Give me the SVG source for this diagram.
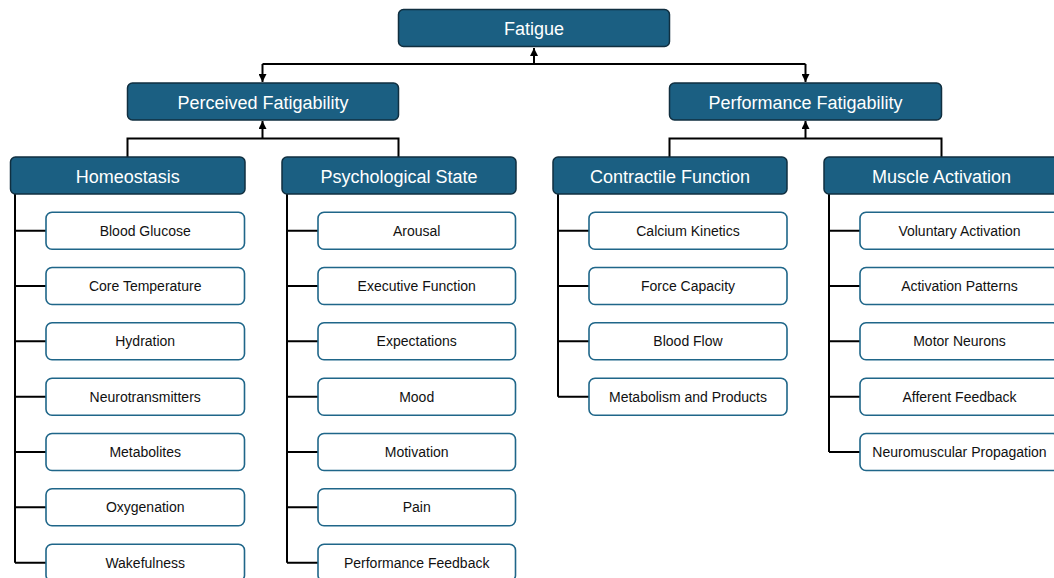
<svg xmlns="http://www.w3.org/2000/svg" width="1054" height="578" viewBox="0 0 1054 578">
<defs>
<style>
.hdr{fill:#1b5f82;stroke:#102f40;stroke-width:1.5}
.ht{fill:#ffffff;font-family:"Liberation Sans",Arial,sans-serif;font-size:18px;text-anchor:middle}
.leaf{fill:#ffffff;stroke:#1f6689;stroke-width:1.6}
.lt{fill:#111111;font-family:"Liberation Sans",Arial,sans-serif;font-size:14px;text-anchor:middle}
.c{fill:none;stroke:#000000;stroke-width:2}
</style>
<marker id="ah" viewBox="0 0 8 8" refX="8" refY="4" markerWidth="4" markerHeight="4" orient="auto" markerUnits="strokeWidth">
<path d="M0,0 L8,4 L0,8 Z" fill="#000000"/>
</marker>
</defs>
<rect width="1054" height="578" fill="#ffffff"/>
<g id="connectors">
<path class="c" d="M534,64 V48" marker-end="url(#ah)"/>
<path class="c" d="M262.5,64 H805.5"/>
<path class="c" d="M262.5,64 V82" marker-end="url(#ah)"/>
<path class="c" d="M805.5,64 V82" marker-end="url(#ah)"/>
<path class="c" d="M127.5,157 V138.5 H398.5 V157"/>
<path class="c" d="M262.5,138.5 V121" marker-end="url(#ah)"/>
<path class="c" d="M669.5,157 V138.5 H941.5 V157"/>
<path class="c" d="M805.5,138.5 V121" marker-end="url(#ah)"/>
<path class="c" d="M15,194 V562.7 M15,230.7 H46 M15,286 H46 M15,341.3 H46 M15,396.7 H46 M15,452 H46 M15,507.3 H46 M15,562.7 H46"/>
<path class="c" d="M287,194 V562.7 M287,230.7 H318 M287,286 H318 M287,341.3 H318 M287,396.7 H318 M287,452 H318 M287,507.3 H318 M287,562.7 H318"/>
<path class="c" d="M558,194 V396.7 M558,230.7 H589 M558,286 H589 M558,341.3 H589 M558,396.7 H589"/>
<path class="c" d="M829,194 V452 M829,230.7 H860 M829,286 H860 M829,341.3 H860 M829,396.7 H860 M829,452 H860"/>
</g>
<g id="fatigue"><rect class="hdr" x="398.5" y="9.5" width="271" height="37" rx="5"/><text class="ht" x="534" y="35.1">Fatigue</text></g>
<g id="perceived"><rect class="hdr" x="127.5" y="83" width="271" height="37" rx="5"/><text class="ht" x="263" y="108.6">Perceived Fatigability</text></g>
<g id="performance"><rect class="hdr" x="669.5" y="83" width="272" height="37" rx="5"/><text class="ht" x="805.5" y="108.6">Performance Fatigability</text></g>
<g id="homeostasis"><rect class="hdr" x="10.5" y="157" width="234.5" height="37" rx="5"/><text class="ht" x="127.7" y="182.6">Homeostasis</text></g>
<g id="psych"><rect class="hdr" x="282" y="157" width="234" height="37" rx="5"/><text class="ht" x="399" y="182.6">Psychological State</text></g>
<g id="contractile"><rect class="hdr" x="553" y="157" width="234" height="37" rx="5"/><text class="ht" x="670" y="182.6">Contractile Function</text></g>
<g id="muscle"><rect class="hdr" x="824" y="157" width="235" height="37" rx="5"/><text class="ht" x="941.5" y="182.6">Muscle Activation</text></g>
<g id="blood-glucose"><rect class="leaf" x="46" y="212.2" width="198.5" height="37" rx="6"/><text class="lt" x="145.2" y="235.7">Blood Glucose</text></g>
<g id="core-temperature"><rect class="leaf" x="46" y="267.5" width="198.5" height="37" rx="6"/><text class="lt" x="145.2" y="291">Core Temperature</text></g>
<g id="hydration"><rect class="leaf" x="46" y="322.8" width="198.5" height="37" rx="6"/><text class="lt" x="145.2" y="346.3">Hydration</text></g>
<g id="neurotransmitters"><rect class="leaf" x="46" y="378.2" width="198.5" height="37" rx="6"/><text class="lt" x="145.2" y="401.7">Neurotransmitters</text></g>
<g id="metabolites"><rect class="leaf" x="46" y="433.5" width="198.5" height="37" rx="6"/><text class="lt" x="145.2" y="457">Metabolites</text></g>
<g id="oxygenation"><rect class="leaf" x="46" y="488.8" width="198.5" height="37" rx="6"/><text class="lt" x="145.2" y="512.3">Oxygenation</text></g>
<g id="wakefulness"><rect class="leaf" x="46" y="544.2" width="198.5" height="37" rx="6"/><text class="lt" x="145.2" y="567.7">Wakefulness</text></g>
<g id="arousal"><rect class="leaf" x="318" y="212.2" width="197.5" height="37" rx="6"/><text class="lt" x="416.7" y="235.7">Arousal</text></g>
<g id="executive-function"><rect class="leaf" x="318" y="267.5" width="197.5" height="37" rx="6"/><text class="lt" x="416.7" y="291">Executive Function</text></g>
<g id="expectations"><rect class="leaf" x="318" y="322.8" width="197.5" height="37" rx="6"/><text class="lt" x="416.7" y="346.3">Expectations</text></g>
<g id="mood"><rect class="leaf" x="318" y="378.2" width="197.5" height="37" rx="6"/><text class="lt" x="416.7" y="401.7">Mood</text></g>
<g id="motivation"><rect class="leaf" x="318" y="433.5" width="197.5" height="37" rx="6"/><text class="lt" x="416.7" y="457">Motivation</text></g>
<g id="pain"><rect class="leaf" x="318" y="488.8" width="197.5" height="37" rx="6"/><text class="lt" x="416.7" y="512.3">Pain</text></g>
<g id="performance-feedback"><rect class="leaf" x="318" y="544.2" width="197.5" height="37" rx="6"/><text class="lt" x="416.7" y="567.7">Performance Feedback</text></g>
<g id="calcium-kinetics"><rect class="leaf" x="589" y="212.2" width="198" height="37" rx="6"/><text class="lt" x="688" y="235.7">Calcium Kinetics</text></g>
<g id="force-capacity"><rect class="leaf" x="589" y="267.5" width="198" height="37" rx="6"/><text class="lt" x="688" y="291">Force Capacity</text></g>
<g id="blood-flow"><rect class="leaf" x="589" y="322.8" width="198" height="37" rx="6"/><text class="lt" x="688" y="346.3">Blood Flow</text></g>
<g id="metabolism-products"><rect class="leaf" x="589" y="378.2" width="198" height="37" rx="6"/><text class="lt" x="688" y="401.7">Metabolism and Products</text></g>
<g id="voluntary-activation"><rect class="leaf" x="860" y="212.2" width="199" height="37" rx="6"/><text class="lt" x="959.5" y="235.7">Voluntary Activation</text></g>
<g id="activation-patterns"><rect class="leaf" x="860" y="267.5" width="199" height="37" rx="6"/><text class="lt" x="959.5" y="291">Activation Patterns</text></g>
<g id="motor-neurons"><rect class="leaf" x="860" y="322.8" width="199" height="37" rx="6"/><text class="lt" x="959.5" y="346.3">Motor Neurons</text></g>
<g id="afferent-feedback"><rect class="leaf" x="860" y="378.2" width="199" height="37" rx="6"/><text class="lt" x="959.5" y="401.7">Afferent Feedback</text></g>
<g id="neuromuscular-propagation"><rect class="leaf" x="860" y="433.5" width="199" height="37" rx="6"/><text class="lt" x="959.5" y="457">Neuromuscular Propagation</text></g>
</svg>
